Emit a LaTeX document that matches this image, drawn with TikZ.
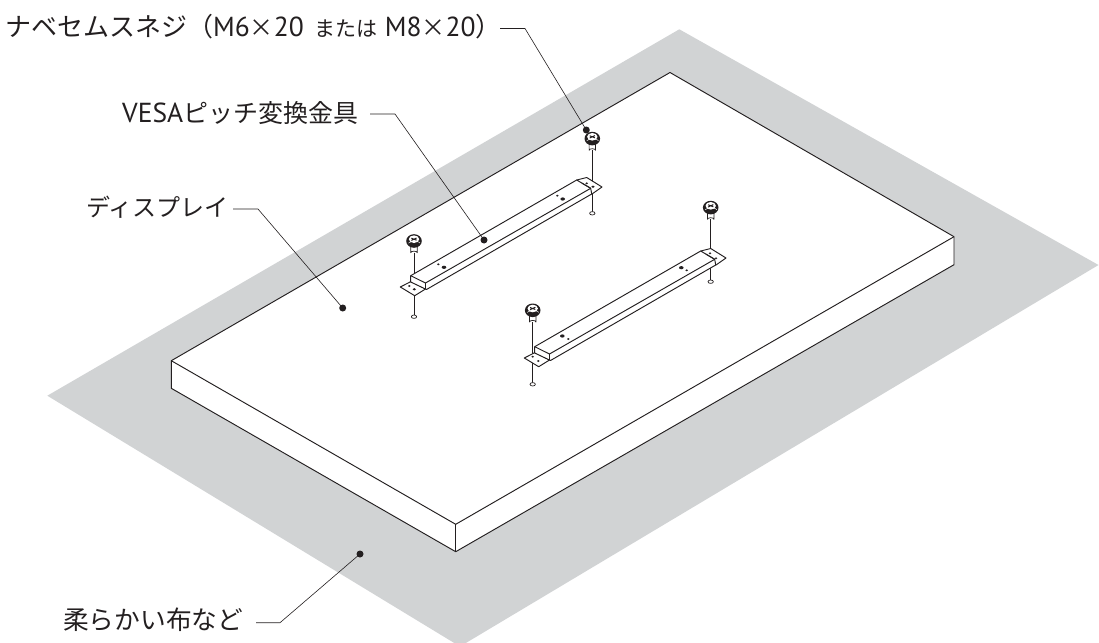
\documentclass[tikz,border=0pt]{standalone}
\usepackage{fontspec}
\setmainfont{PT Sans}
\newfontfamily\jpfont{Noto Sans CJK JP}
\definecolor{cloth}{HTML}{D1D3D4}
\definecolor{ink}{HTML}{231F20}
\newcommand{\latn}[1]{{\normalfont\fontsize{27.5}{30}\selectfont #1}}
\newcommand{\jtimes}{{\jpfont\fontsize{24}{29}\selectfont ×}}
\newcommand{\barbody}{%
  \draw[outline,fill=white] (400.3,287) -- (411,281.5) -- (425.5,289) -- (414.7,295.7) -- cycle;
  \draw[outline,fill=white] (576.7,180) -- (586.7,177.5) -- (602,187) -- (592,194) -- cycle;
  \draw[outline,fill=white] (410.7,275.7) -- (576.7,180) -- (590.7,188.3) -- (591.7,194) -- (426.5,289.5) -- (425.5,289) -- (410.7,282) -- cycle;
  \draw[outline] (410.7,275.7) -- (425.5,283) -- (590.7,188.3);
  \draw[outline] (425.5,283) -- (425.5,289);
  \draw[outline] (581.7,183) -- (590.7,188.3);
}
\newcommand{\screwat}[3]{%
  \begin{scope}[shift={(#1,#2)}]
    \draw[ink,line width=0.8pt] (0,12) -- (0,#3);
    \draw[fineline,fill=white] (-3.2,4) -- (-3.2,12) arc[x radius=3.2,y radius=1.6,start angle=180,end angle=360] -- (3.2,4) -- cycle;
    \fill[ink] (0,0.3) ellipse[x radius=7.8,y radius=6.8];
    \fill[white] (0,-1.5) ellipse[x radius=5.2,y radius=3.8];
    \draw[white,line width=0.5pt] (-5.5,2.4) arc[x radius=6,y radius=2.6,start angle=195,end angle=345];
    \draw[ink,line width=1pt] (-2.6,-2.5) -- (2.6,-0.5) (2.6,-2.7) -- (-2.6,-0.3);
    \draw[fineline,fill=white] (0,#3) ellipse[x radius=2.7,y radius=1.7];
  \end{scope}}
\tikzset{
  x=1pt,y=-1pt,
  outline/.style={draw=ink,line width=0.95pt,line join=round},
  fineline/.style={draw=ink,line width=0.7pt,line join=round},
  leader/.style={draw=ink,line width=0.6pt,line join=miter},
  dot/.style={circle,fill=ink,inner sep=0pt,minimum size=7pt},
  lab/.style={anchor=west,inner sep=0pt,text=ink},
}
\begin{document}
\begin{tikzpicture}
\useasboundingbox (0,0) rectangle (1099,642);
\clip (0,0) rectangle (1099,642);
% cloth
\fill[cloth] (679.3,29.3) -- (1098.5,265) -- (460,646.5) -- (47.3,395.7) -- cycle;
% display
\draw[outline,fill=white] (670,72.5) -- (954,236.7) -- (954,264.7) -- (455.7,551.7) -- (171.3,388.3) -- (171.3,360.7) -- cycle;
\draw[outline] (171.3,360.7) -- (455.7,524.3) -- (954,236.7);
\draw[outline] (455.7,524.3) -- (455.7,551.7);
% screws
\screwat{414}{240.7}{76}
\screwat{592.3}{138.3}{75}
\screwat{710.7}{207.3}{74.4}
\screwat{532.7}{310}{74.3}
% brackets
\barbody
\begin{scope}[shift={(124,71)}]\barbody\end{scope}
% holes of the first bracket
\fill[ink] (438.3,264.3) ellipse[x radius=1.3,y radius=1];
\fill[ink] (444,267.3) ellipse[x radius=2.3,y radius=1.6];
\fill[ink] (557.3,195.7) ellipse[x radius=1.3,y radius=1];
\fill[ink] (562.7,199) ellipse[x radius=2.3,y radius=1.6];
\fill[ink] (409.3,286) ellipse[x radius=1.3,y radius=1];
\fill[ink] (414.3,289.3) ellipse[x radius=1.7,y radius=1.2];
\fill[ink] (586.7,183.3) ellipse[x radius=1.3,y radius=1];
\fill[ink] (593,186.7) ellipse[x radius=1.7,y radius=1.2];
% holes of the second bracket
\fill[ink] (562.3,336) ellipse[x radius=2.3,y radius=1.6];
\fill[ink] (568.3,339) ellipse[x radius=1.3,y radius=1];
\fill[ink] (681.3,267.7) ellipse[x radius=2.3,y radius=1.6];
\fill[ink] (686.7,270.3) ellipse[x radius=1.3,y radius=1];
\fill[ink] (532.7,356.7) ellipse[x radius=1.3,y radius=1];
\fill[ink] (538.3,361) ellipse[x radius=1.3,y radius=1];
\fill[ink] (710,253.3) ellipse[x radius=1.3,y radius=1];
\fill[ink] (716,258.3) ellipse[x radius=1.3,y radius=1];
% labels
\node[lab] (lab1) at (5,27) {\jpfont\fontsize{26}{30}\selectfont ナベセムスネジ（\latn{M6}\jtimes\latn{20}\hspace{11pt}{\fontsize{21}{25}\selectfont または}\hspace{7pt}\latn{M8}\jtimes\latn{20}）};
\node[lab] (lab2) at (122,113) {\latn{VESA}\jpfont\fontsize{25}{29}\selectfont ピッチ変換金具};
\node[lab] (lab3) at (86,207) {\jpfont\fontsize{24}{29}\selectfont ディスプレイ};
\node[lab] (lab4) at (63,620) {\jpfont\fontsize{25.7}{30}\selectfont 柔らかい布など};
% targets
\node[dot] (d1) at (586.3,130) {};
\node[dot] (d2) at (484,240) {};
\node[dot] (d3) at (342.7,308) {};
\node[dot] (d4) at (360,554) {};
% leaders
\coordinate (s1) at (500,28.5); \coordinate (k1) at (525,28.5);
\coordinate (s2) at (370,114); \coordinate (k2) at (395,114);
\coordinate (s3) at (233,209); \coordinate (k3) at (258,209);
\coordinate (s4) at (256,622.7); \coordinate (k4) at (280,622.7);
\draw[leader] (s1) -- (k1) -- (d1.center);
\draw[leader] (s2) -- (k2) -- (d2.center);
\draw[leader] (s3) -- (k3) -- (d3.center);
\draw[leader] (s4) -- (k4) -- (d4.center);
\end{tikzpicture}
\end{document}
